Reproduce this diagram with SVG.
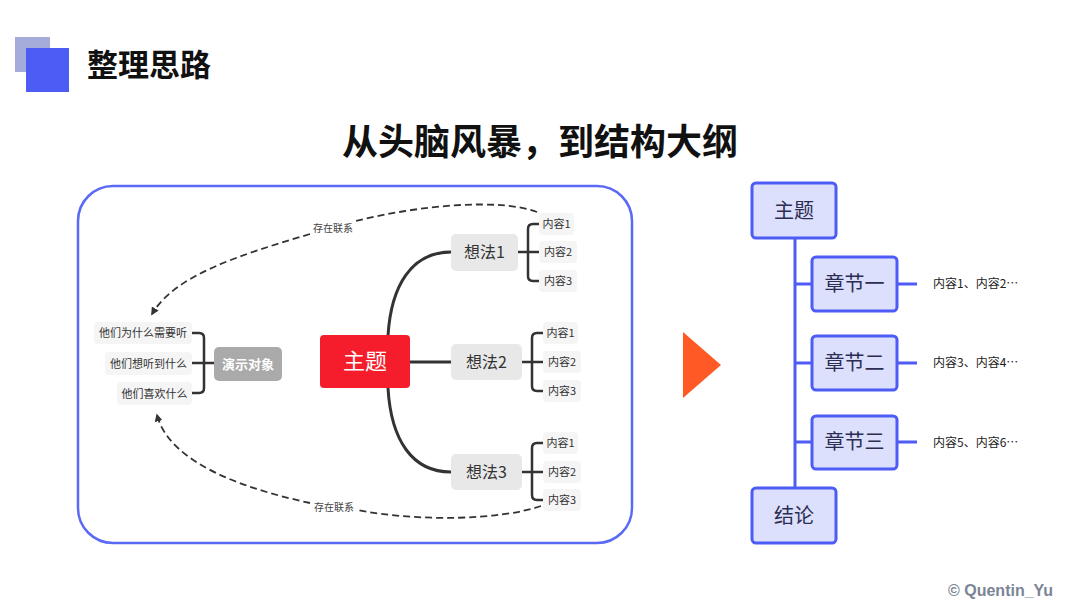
<svg xmlns="http://www.w3.org/2000/svg" width="1080" height="608" viewBox="0 0 1080 608">
<style>
text{font-family:"Noto Sans CJK SC","Liberation Sans",sans-serif}
.leaf{fill:#f5f5f5}
.lt{font-size:11px;fill:#333}
.idea{fill:#e8e8e8}
.it{font-size:16px;fill:#333}
.br{fill:none;stroke:#333;stroke-width:2.5;stroke-linecap:round;stroke-linejoin:round}
.main{fill:none;stroke:#333;stroke-width:3}
.dash{fill:none;stroke:#333;stroke-width:1.8;stroke-dasharray:7 4}
.ob{fill:#dde0fc;stroke:#4d5cf5;stroke-width:3}
.ot{font-size:20px;fill:#2b2d52}
.ol{stroke:#4d5cf5;stroke-width:3;fill:none}
.ct{font-size:12px;fill:#222}
</style>
<defs>
<marker id="ah" viewBox="0 0 10 10" refX="8" refY="5" markerWidth="8" markerHeight="8" markerUnits="userSpaceOnUse" orient="auto">
<path d="M0,0 L10,5 L0,10 z" fill="#333"/>
</marker>
</defs>
<rect width="1080" height="608" fill="#fff"/>
<g id="header">
<rect x="15" y="37" width="35" height="35" fill="#a6acd9"/>
<rect x="26" y="48" width="43" height="44" fill="#4d5cf5"/>
<text x="87" y="76" font-size="31" font-weight="bold" fill="#111">整理思路</text>
</g>
<text id="title" x="540" y="155" text-anchor="middle" font-size="36" font-weight="bold" fill="#111">从头脑风暴，到结构大纲</text>
<rect id="frame" x="78" y="186" width="554" height="357" rx="35" fill="#fff" stroke="#5b6af5" stroke-width="2.5"/>
<g id="connectors">
<path class="main" d="M388,336 C391,285 412,252 451,252"/>
<path class="main" d="M410,362 H451"/>
<path class="main" d="M388,388 C391,440 412,472 451,472"/>
<path class="br" d="M518,252 H528 M539,224 H533 Q528,224 528,229 V276 Q528,281 533,281 H539 M528,252 H539"/>
<path class="br" d="M522,362 H532 M543,333 H537 Q532,333 532,338 V386 Q532,391 537,391 H543 M532,362 H543"/>
<path class="br" d="M522,472 H532 M543,443 H537 Q532,443 532,448 V495 Q532,500 537,500 H543 M532,472 H543"/>
<path class="br" d="M192,333 H199 Q204,333 204,338 V388 Q204,393 199,393 H192 M192,363 H214"/>
<path class="dash" d="M537,212 C500,198 420,205 356,221"/>
<path class="dash" d="M310,234 C240,255 175,275 152,314" marker-end="url(#ah)"/>
<path class="dash" d="M541,506 C500,520 420,522 357,510"/>
<path class="dash" d="M310,503 C250,490 170,465 157,415" marker-end="url(#ah)"/>
<path class="ol" d="M795,238 V488 M795,284 H812 M795,363 H812 M795,442 H812 M897,284 H917 M897,363 H917 M897,442 H917"/>
</g>
<text x="333" y="232" text-anchor="middle" font-size="10" fill="#444">存在联系</text>
<text x="334" y="511" text-anchor="middle" font-size="10" fill="#444">存在联系</text>
<g id="topic"><rect x="320" y="335" width="90" height="53" rx="4" fill="#f51d2c"/><text x="365" y="369" text-anchor="middle" font-size="22" fill="#fff">主题</text></g>
<g id="idea1"><rect class="idea" x="451" y="234" width="67" height="37" rx="5"/><text class="it" x="484.5" y="258" text-anchor="middle">想法1</text></g>
<g id="idea2"><rect class="idea" x="451" y="344" width="71" height="36" rx="5"/><text class="it" x="486.5" y="368" text-anchor="middle">想法2</text></g>
<g id="idea3"><rect class="idea" x="451" y="454" width="71" height="36" rx="5"/><text class="it" x="486.5" y="478" text-anchor="middle">想法3</text></g>
<g id="c11"><rect class="leaf" x="539" y="213" width="35" height="22" rx="4"/><text class="lt" x="556.5" y="228" text-anchor="middle">内容1</text></g>
<g id="c12"><rect class="leaf" x="539" y="241" width="38" height="22" rx="4"/><text class="lt" x="558" y="256" text-anchor="middle">内容2</text></g>
<g id="c13"><rect class="leaf" x="539" y="270" width="38" height="22" rx="4"/><text class="lt" x="558" y="285" text-anchor="middle">内容3</text></g>
<g id="c21"><rect class="leaf" x="543" y="322" width="35" height="22" rx="4"/><text class="lt" x="560.5" y="337" text-anchor="middle">内容1</text></g>
<g id="c22"><rect class="leaf" x="543" y="351" width="38" height="22" rx="4"/><text class="lt" x="562" y="366" text-anchor="middle">内容2</text></g>
<g id="c23"><rect class="leaf" x="543" y="380" width="38" height="22" rx="4"/><text class="lt" x="562" y="395" text-anchor="middle">内容3</text></g>
<g id="c31"><rect class="leaf" x="543" y="432" width="35" height="22" rx="4"/><text class="lt" x="560.5" y="447" text-anchor="middle">内容1</text></g>
<g id="c32"><rect class="leaf" x="543" y="461" width="38" height="22" rx="4"/><text class="lt" x="562" y="476" text-anchor="middle">内容2</text></g>
<g id="c33"><rect class="leaf" x="543" y="489" width="38" height="22" rx="4"/><text class="lt" x="562" y="504" text-anchor="middle">内容3</text></g>
<g id="audience"><rect x="214" y="347" width="68" height="34" rx="5" fill="#aaaaaa"/><text x="248" y="368.5" text-anchor="middle" font-size="13" font-weight="bold" fill="#fff">演示对象</text></g>
<g id="q1"><rect class="leaf" x="94" y="322" width="98" height="22" rx="4"/><text class="lt" x="143" y="337" text-anchor="middle">他们为什么需要听</text></g>
<g id="q2"><rect class="leaf" x="105" y="352" width="87" height="23" rx="4"/><text class="lt" x="148.5" y="367.5" text-anchor="middle">他们想听到什么</text></g>
<g id="q3"><rect class="leaf" x="117" y="382" width="75" height="23" rx="4"/><text class="lt" x="154.5" y="397.5" text-anchor="middle">他们喜欢什么</text></g>
<polygon id="arrow" points="683,332 721,365 683,398" fill="#ff5a26"/>
<g id="o-topic"><rect class="ob" x="752" y="183" width="84" height="55" rx="4"/><text class="ot" x="794" y="218" text-anchor="middle">主题</text></g>
<g id="o-ch1"><rect class="ob" x="812" y="257" width="85" height="54" rx="4"/><text class="ot" x="854.5" y="291" text-anchor="middle">章节一</text></g>
<g id="o-ch2"><rect class="ob" x="812" y="336" width="85" height="54" rx="4"/><text class="ot" x="854.5" y="370" text-anchor="middle">章节二</text></g>
<g id="o-ch3"><rect class="ob" x="812" y="416" width="85" height="53" rx="4"/><text class="ot" x="854.5" y="449" text-anchor="middle">章节三</text></g>
<g id="o-end"><rect class="ob" x="752" y="488" width="84" height="55" rx="4"/><text class="ot" x="794" y="523" text-anchor="middle">结论</text></g>
<text class="ct" x="933" y="288">内容1、内容2…</text>
<text class="ct" x="933" y="367">内容3、内容4…</text>
<text class="ct" x="933" y="447">内容5、内容6…</text>
<text x="948" y="596" font-size="16" font-weight="bold" fill="#7b8596" style="font-family:'Liberation Sans',sans-serif">© Quentin_Yu</text>
</svg>
